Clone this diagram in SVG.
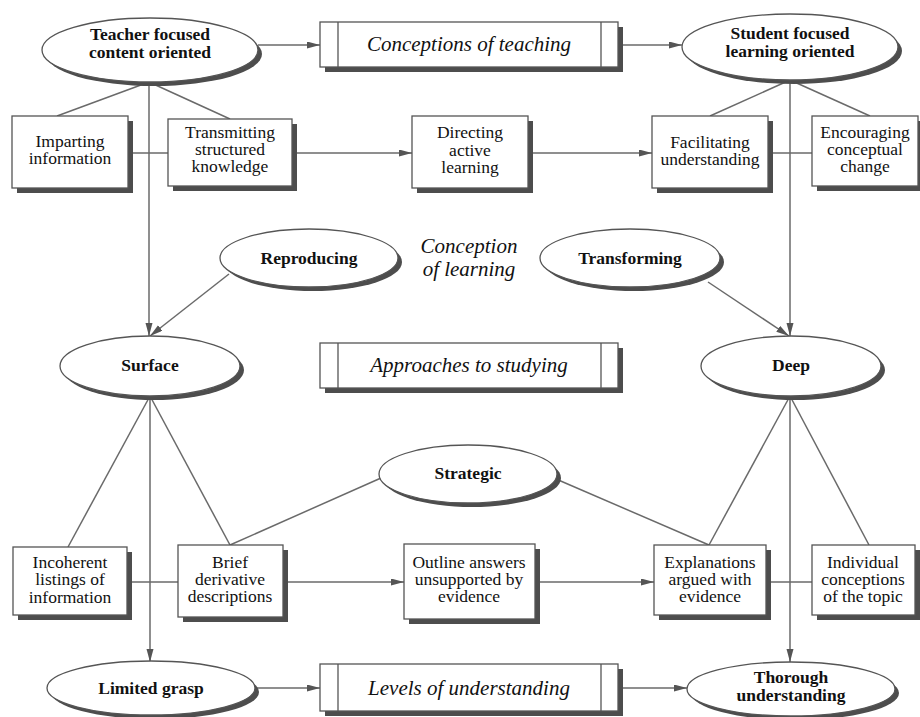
<svg xmlns="http://www.w3.org/2000/svg" width="920" height="717" viewBox="0 0 920 717">
  <defs>
    <marker id="arrow" markerUnits="userSpaceOnUse" markerWidth="14" markerHeight="8" refX="13" refY="3.5" orient="auto">
      <path d="M0,0 L13,3.5 L0,7 z" fill="#555"/>
    </marker>
  </defs>
  <style>
    .link { stroke: #6a6a6a; stroke-width: 1.5; fill: none; }
    .arr { marker-end: url(#arrow); }
    .shadow { fill: #4d4d4d; stroke: none; }
    .shape { fill: #fff; stroke: #555; stroke-width: 1.3; }
    .bar { stroke: #555; stroke-width: 1.3; }
    .bold { font-family: "Liberation Serif", "Times New Roman", serif; font-weight: bold; font-size: 17.5px; fill: #111; text-anchor: middle; }
    .plain { font-family: "Liberation Serif", "Times New Roman", serif; font-size: 17.5px; fill: #111; text-anchor: middle; }
    .title { font-family: "Liberation Serif", "Times New Roman", serif; font-style: italic; font-size: 21px; fill: #111; text-anchor: middle; }
  </style>
  <rect width="920" height="717" fill="#fff"/>

  <!-- connectors -->
  <g id="connectors">
    <line class="link arr" x1="258" y1="45" x2="320" y2="45"/>
    <line class="link arr" x1="618" y1="45" x2="682" y2="45"/>
    <line class="link" x1="149" y1="82" x2="57" y2="116"/>
    <line class="link" x1="149" y1="82" x2="230" y2="119"/>
    <line class="link arr" x1="149" y1="82" x2="149" y2="336"/>
    <line class="link" x1="128" y1="153" x2="168" y2="153"/>
    <line class="link arr" x1="292" y1="153" x2="412" y2="153"/>
    <line class="link arr" x1="528" y1="153" x2="652" y2="153"/>
    <line class="link" x1="768" y1="153" x2="812" y2="153"/>
    <line class="link" x1="790" y1="80" x2="710" y2="116"/>
    <line class="link" x1="790" y1="80" x2="870" y2="116"/>
    <line class="link arr" x1="790" y1="80" x2="790" y2="336"/>
    <line class="link arr" x1="229" y1="274" x2="150" y2="336"/>
    <line class="link arr" x1="708" y1="282" x2="789" y2="336"/>
    <line class="link" x1="150" y1="396" x2="68" y2="547"/>
    <line class="link" x1="150" y1="396" x2="230" y2="545"/>
    <line class="link arr" x1="150" y1="396" x2="150" y2="662"/>
    <line class="link" x1="381" y1="478" x2="230" y2="545"/>
    <line class="link" x1="556" y1="479" x2="709" y2="545"/>
    <line class="link" x1="127" y1="582" x2="178" y2="582"/>
    <line class="link arr" x1="283" y1="582" x2="404" y2="582"/>
    <line class="link arr" x1="535" y1="582" x2="654" y2="582"/>
    <line class="link" x1="766" y1="582" x2="812" y2="582"/>
    <line class="link" x1="790" y1="396" x2="709" y2="545"/>
    <line class="link" x1="790" y1="396" x2="869" y2="545"/>
    <line class="link arr" x1="790" y1="396" x2="790" y2="662"/>
    <line class="link arr" x1="255" y1="688" x2="320" y2="688"/>
    <line class="link arr" x1="618" y1="688" x2="687" y2="688"/>
  </g>

  <!-- conceptions of teaching -->
  <g id="teacher-focused">
    <ellipse class="shadow" cx="154" cy="54" rx="108" ry="32"/>
    <ellipse class="shape" cx="150" cy="50" rx="108" ry="32"/>
    <text class="bold" x="150" y="40">Teacher focused</text>
    <text class="bold" x="150" y="58">content oriented</text>
  </g>
  <g id="conceptions-of-teaching">
    <rect class="shadow" x="325" y="27" width="298" height="45"/>
    <rect class="shape" x="320" y="22" width="298" height="45"/>
    <line class="bar" x1="338" y1="22" x2="338" y2="67"/>
    <line class="bar" x1="601" y1="22" x2="601" y2="67"/>
    <text class="title" x="469" y="51">Conceptions of teaching</text>
  </g>
  <g id="student-focused">
    <ellipse class="shadow" cx="794" cy="51" rx="108" ry="33"/>
    <ellipse class="shape" cx="790" cy="47" rx="108" ry="33"/>
    <text class="bold" x="790" y="39">Student focused</text>
    <text class="bold" x="790" y="57">learning oriented</text>
  </g>
  <g id="imparting">
    <rect class="shadow" x="17" y="121" width="116" height="72"/>
    <rect class="shape" x="12" y="116" width="116" height="72"/>
    <text class="plain" x="70" y="147">Imparting</text>
    <text class="plain" x="70" y="164">information</text>
  </g>
  <g id="transmitting">
    <rect class="shadow" x="173" y="124" width="124" height="67"/>
    <rect class="shape" x="168" y="119" width="124" height="67"/>
    <text class="plain" x="230" y="138">Transmitting</text>
    <text class="plain" x="230" y="155">structured</text>
    <text class="plain" x="230" y="172">knowledge</text>
  </g>
  <g id="directing">
    <rect class="shadow" x="417" y="121" width="116" height="72"/>
    <rect class="shape" x="412" y="116" width="116" height="72"/>
    <text class="plain" x="470" y="138">Directing</text>
    <text class="plain" x="470" y="156">active</text>
    <text class="plain" x="470" y="173">learning</text>
  </g>
  <g id="facilitating">
    <rect class="shadow" x="657" y="121" width="116" height="72"/>
    <rect class="shape" x="652" y="116" width="116" height="72"/>
    <text class="plain" x="710" y="148">Facilitating</text>
    <text class="plain" x="710" y="165">understanding</text>
  </g>
  <g id="encouraging">
    <rect class="shadow" x="817" y="121" width="106" height="70"/>
    <rect class="shape" x="812" y="116" width="106" height="70"/>
    <text class="plain" x="865" y="138">Encouraging</text>
    <text class="plain" x="865" y="155">conceptual</text>
    <text class="plain" x="865" y="172">change</text>
  </g>

  <!-- conception of learning -->
  <g id="reproducing">
    <ellipse class="shadow" cx="313" cy="262" rx="89" ry="29"/>
    <ellipse class="shape" cx="309" cy="258" rx="89" ry="29"/>
    <text class="bold" x="309" y="264">Reproducing</text>
  </g>
  <g id="conception-of-learning">
    <text class="title" x="469" y="253">Conception</text>
    <text class="title" x="469" y="276">of learning</text>
  </g>
  <g id="transforming">
    <ellipse class="shadow" cx="634" cy="262" rx="90" ry="29"/>
    <ellipse class="shape" cx="630" cy="258" rx="90" ry="29"/>
    <text class="bold" x="630" y="264">Transforming</text>
  </g>

  <!-- approaches to studying -->
  <g id="surface">
    <ellipse class="shadow" cx="154" cy="370" rx="90" ry="30"/>
    <ellipse class="shape" cx="150" cy="366" rx="90" ry="30"/>
    <text class="bold" x="150" y="371">Surface</text>
  </g>
  <g id="approaches-to-studying">
    <rect class="shadow" x="325" y="348" width="298" height="45"/>
    <rect class="shape" x="320" y="343" width="298" height="45"/>
    <line class="bar" x1="338" y1="343" x2="338" y2="388"/>
    <line class="bar" x1="601" y1="343" x2="601" y2="388"/>
    <text class="title" x="469" y="372">Approaches to studying</text>
  </g>
  <g id="deep">
    <ellipse class="shadow" cx="795" cy="370" rx="90" ry="30"/>
    <ellipse class="shape" cx="791" cy="366" rx="90" ry="30"/>
    <text class="bold" x="791" y="371">Deep</text>
  </g>
  <g id="strategic">
    <ellipse class="shadow" cx="472" cy="478" rx="89" ry="29"/>
    <ellipse class="shape" cx="468" cy="474" rx="89" ry="29"/>
    <text class="bold" x="468" y="479">Strategic</text>
  </g>

  <!-- levels of understanding -->
  <g id="incoherent">
    <rect class="shadow" x="18" y="552" width="114" height="68"/>
    <rect class="shape" x="13" y="547" width="114" height="68"/>
    <text class="plain" x="70" y="568">Incoherent</text>
    <text class="plain" x="70" y="585">listings of</text>
    <text class="plain" x="70" y="603">information</text>
  </g>
  <g id="brief">
    <rect class="shadow" x="183" y="550" width="105" height="72"/>
    <rect class="shape" x="178" y="545" width="105" height="72"/>
    <text class="plain" x="230" y="568">Brief</text>
    <text class="plain" x="230" y="585">derivative</text>
    <text class="plain" x="230" y="602">descriptions</text>
  </g>
  <g id="outline">
    <rect class="shadow" x="409" y="549" width="131" height="75"/>
    <rect class="shape" x="404" y="544" width="131" height="75"/>
    <text class="plain" x="469" y="568">Outline answers</text>
    <text class="plain" x="469" y="585">unsupported by</text>
    <text class="plain" x="469" y="602">evidence</text>
  </g>
  <g id="explanations">
    <rect class="shadow" x="659" y="550" width="112" height="70"/>
    <rect class="shape" x="654" y="545" width="112" height="70"/>
    <text class="plain" x="710" y="568">Explanations</text>
    <text class="plain" x="710" y="585">argued with</text>
    <text class="plain" x="710" y="602">evidence</text>
  </g>
  <g id="individual">
    <rect class="shadow" x="817" y="550" width="103" height="70"/>
    <rect class="shape" x="812" y="545" width="103" height="70"/>
    <text class="plain" x="863" y="568">Individual</text>
    <text class="plain" x="863" y="585">conceptions</text>
    <text class="plain" x="863" y="602">of the topic</text>
  </g>
  <g id="limited-grasp">
    <ellipse class="shadow" cx="155" cy="692" rx="104" ry="27"/>
    <ellipse class="shape" cx="151" cy="688" rx="104" ry="27"/>
    <text class="bold" x="151" y="694">Limited grasp</text>
  </g>
  <g id="levels-of-understanding">
    <rect class="shadow" x="325" y="669" width="298" height="47"/>
    <rect class="shape" x="320" y="664" width="298" height="47"/>
    <line class="bar" x1="338" y1="664" x2="338" y2="711"/>
    <line class="bar" x1="601" y1="664" x2="601" y2="711"/>
    <text class="title" x="469" y="695">Levels of understanding</text>
  </g>
  <g id="thorough">
    <ellipse class="shadow" cx="795" cy="693" rx="104" ry="27"/>
    <ellipse class="shape" cx="791" cy="689" rx="104" ry="27"/>
    <text class="bold" x="791" y="683">Thorough</text>
    <text class="bold" x="791" y="701">understanding</text>
  </g>
</svg>
